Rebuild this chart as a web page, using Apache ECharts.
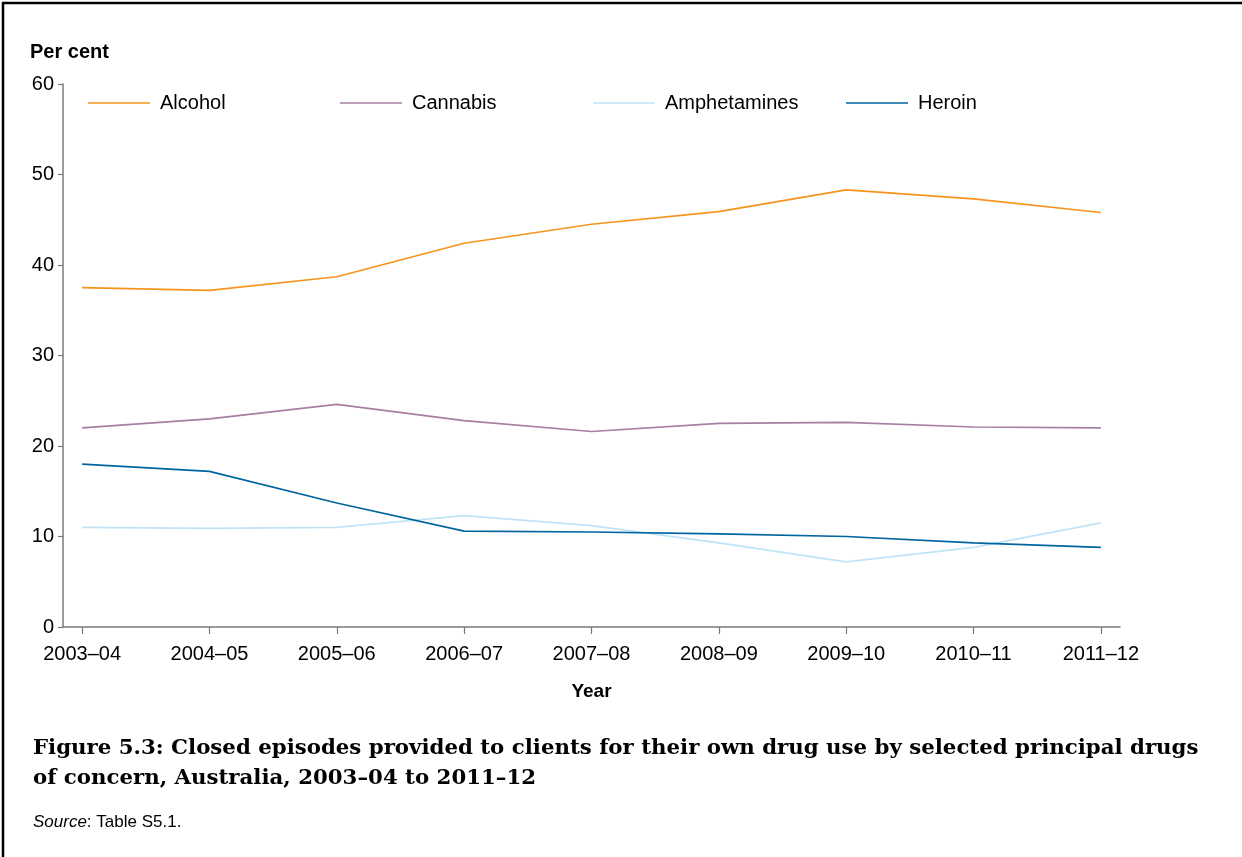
<!DOCTYPE html>
<html>
<head>
<meta charset="utf-8">
<script src="https://cdn.jsdelivr.net/npm/echarts@6/dist/echarts.min.js"></script>
<style>
html,body{margin:0;padding:0;background:#fff;}
#chart{width:1242px;height:857px;}
</style>
</head>
<body>
<div id="chart"></div>
<script>
const categories = ['2003–04','2004–05','2005–06','2006–07','2007–08','2008–09','2009–10','2010–11','2011–12'];
const alcohol      = [37.5, 37.2, 38.7, 42.4, 44.5, 45.9, 48.3, 47.3, 45.8];
const cannabis     = [22.0, 23.0, 24.6, 22.8, 21.6, 22.5, 22.6, 22.1, 22.0];
const amphetamines = [11.0, 10.9, 11.0, 12.3, 11.2, 9.3, 7.2, 8.8, 11.5];
const heroin       = [18.0, 17.2, 13.7, 10.6, 10.5, 10.3, 10.0, 9.3, 8.8];
const yTicks = [0, 10, 20, 30, 40, 50, 60];
const seriesNames = ['Alcohol', 'Cannabis', 'Amphetamines', 'Heroin'];
const seriesValues = [alcohol, cannabis, amphetamines, heroin];
const colors = ['#F7941D', '#A77FA3', '#BFE4F7', '#00649F'];

const catIdx = categories.map((c, i) => i);
const FONT = '"Liberation Sans", Arial, sans-serif';
const AXIS_COLOR = '#7a7a7a';

const chart = echarts.init(document.getElementById('chart'), null, {renderer: 'canvas'});
const legendLefts = [88, 340, 593, 846];

const option = {
  backgroundColor: '#ffffff',
  animation: false,
  title: [
    {text: 'Per cent', left: 30, top: 42, padding: 0,
     textStyle: {fontFamily: FONT, fontSize: 20, fontWeight: 'bold', color: '#000'}},
    {text: 'Figure 5.3: Closed episodes provided to clients for their own drug use by selected principal drugs\nof concern, Australia, 2003–04 to 2011–12',
     left: 33, top: 733, padding: 0,
     textStyle: {fontFamily: '"DejaVu Serif", serif', fontSize: 21.3, fontWeight: 'bold', color: '#000', lineHeight: 30}},
    {text: '{i|Source}: Table S5.1.', left: 33, top: 814, padding: 0,
     textStyle: {fontFamily: FONT, fontSize: 17, fontWeight: 'normal', color: '#000',
       rich: {i: {fontFamily: FONT, fontSize: 17, fontStyle: 'italic', fontWeight: 'normal', color: '#000'}}}}
  ],
  legend: seriesNames.map((n, i) => ({
    data: [n], left: legendLefts[i], top: 93, padding: 0,
    itemWidth: 62, itemHeight: 2,
    icon: 'path://M0,0 L62,0 L62,1.6 L0,1.6 Z',
    itemStyle: {color: colors[i]},
    textStyle: {fontFamily: FONT, fontSize: 20, color: '#000', padding: [0, 0, 0, 5]},
    selectedMode: false
  })),
  grid: {left: 63, right: 122, top: 84, bottom: 230, containLabel: false},
  xAxis: {
    type: 'value', min: -0.15, max: 8.15,
    splitLine: {show: false},
    axisLine: {show: true, onZero: false, lineStyle: {color: AXIS_COLOR, width: 1.5}},
    axisTick: {show: true, customValues: catIdx, length: 7, lineStyle: {color: AXIS_COLOR, width: 1.2}},
    axisLabel: {customValues: catIdx, formatter: v => categories[Math.round(v)] || '', fontFamily: FONT, fontSize: 20, color: '#000', margin: 17},
    name: 'Year', nameLocation: 'middle', nameGap: 55,
    nameTextStyle: {fontFamily: FONT, fontSize: 19, fontWeight: 'bold', color: '#000'}
  },
  yAxis: {
    type: 'value', min: yTicks[0], max: yTicks[yTicks.length - 1], interval: 10,
    splitLine: {show: false},
    axisLine: {show: true, onZero: false, lineStyle: {color: AXIS_COLOR, width: 1.5}},
    axisTick: {show: true, length: 5, lineStyle: {color: AXIS_COLOR, width: 1.2}},
    axisLabel: {fontFamily: FONT, fontSize: 20, color: '#000', margin: 9}
  },
  series: seriesNames.map((n, i) => ({
    name: n, type: 'line', symbol: 'none',
    lineStyle: {color: colors[i], width: 1.7},
    itemStyle: {color: colors[i]},
    data: seriesValues[i].map((v, j) => [j, v])
  })),
  graphic: [
    {type: 'line', shape: {x1: 2, y1: 3, x2: 1242, y2: 3}, style: {stroke: '#000', lineWidth: 2.5}},
    {type: 'line', shape: {x1: 3, y1: 2, x2: 3, y2: 857}, style: {stroke: '#000', lineWidth: 2.5}}
  ]
};
chart.setOption(option);
</script>
</body>
</html>
